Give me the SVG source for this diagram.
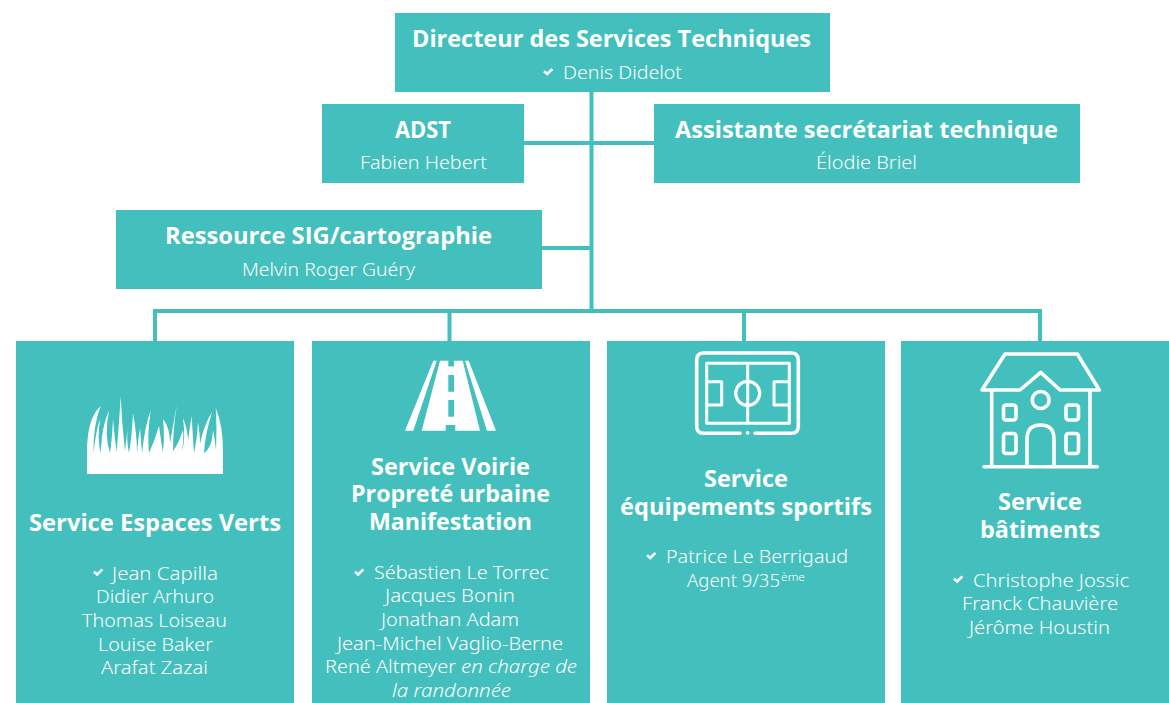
<svg xmlns="http://www.w3.org/2000/svg" width="1169" height="703" viewBox="0 0 1169 703">
<style>
.box{fill:#43c0bd}
.t{font-family:"Open Sans","Noto Sans",sans-serif;font-weight:700;font-size:23px;fill:#fff;text-anchor:start}
.b{font-family:"Noto Sans","Liberation Sans",sans-serif;font-weight:300;font-size:19px;fill:#fff;text-anchor:start}
.i{font-style:italic}
.s{font-size:11px}
.ck{fill:none;stroke:#fff;stroke-width:2.6}
.ln{fill:none;stroke:#43c0bd;stroke-width:4}
.ic{fill:none;stroke:#fff;stroke-linejoin:round;stroke-linecap:round}
</style>
<defs>
<path id="check" class="ck" d="M0 2.7L3.2 5.4L8.4 0.4"/>
</defs>
<g id="connectors">
<path class="ln" d="M591.5 92V311M524 143H654M542 248H591.5M155 341V311H1040V341M449.5 311V341M744 311V341"/>
</g>
<g id="directeur">
<rect class="box" x="395" y="13" width="435" height="79"/>
<text class="t" x="412" y="47" textLength="399" lengthAdjust="spacingAndGlyphs">Directeur des Services Techniques</text>
<use href="#check" x="544" y="68.6"/>
<text class="b" x="563" y="79" textLength="119" lengthAdjust="spacingAndGlyphs">Denis Didelot</text>
</g>
<g id="adst">
<rect class="box" x="322" y="104" width="202" height="79"/>
<text class="t" x="395" y="138" textLength="56" lengthAdjust="spacingAndGlyphs">ADST</text>
<text class="b" x="360" y="169" textLength="127" lengthAdjust="spacingAndGlyphs">Fabien Hebert</text>
</g>
<g id="assistante">
<rect class="box" x="654" y="104" width="426" height="79"/>
<text class="t" x="675" y="138" textLength="383" lengthAdjust="spacingAndGlyphs">Assistante secrétariat technique</text>
<text class="b" x="816" y="169" textLength="101" lengthAdjust="spacingAndGlyphs">Élodie Briel</text>
</g>
<g id="ressource">
<rect class="box" x="116" y="210" width="426" height="79"/>
<text class="t" x="165" y="244" textLength="327" lengthAdjust="spacingAndGlyphs">Ressource SIG/cartographie</text>
<text class="b" x="242" y="276" textLength="173" lengthAdjust="spacingAndGlyphs">Melvin Roger Guéry</text>
</g>
<g id="espaces-verts">
<rect class="box" x="16" y="341" width="278" height="362"/>
<path fill="#fff" d="M87 474V452Q87 418 100.7 406Q93 425 93.5 453Q96 430 100 419Q97 440 100.7 453Q102 425 109 411Q104 435 110 453Q112 440 113 419Q115 440 116.7 452Q119 425 120.7 396.7Q122 425 125 451Q127 435 128 423Q126 440 129 453Q132 435 133 413Q137 435 137 453Q138 440 140 428Q141 440 142 453Q145 425 150.7 410.7Q147 435 149 453Q155 440 159 426Q161 440 162.7 452Q165 440 163 419Q170 428 170 443Q174 420 176.7 405Q173 430 173 451Q178 445 183 430Q184 440 181.7 452Q186 440 183 418Q188 430 188 442Q189 430 191.7 416Q193 440 194 453Q197 440 198 422Q200 435 200 444Q204 425 212 412Q205 435 204 453Q212 448 213 430Q215 440 216 450Q217 425 215.7 408Q223 425 223 452V474Z"/>
<text class="t" x="29" y="531" textLength="252" lengthAdjust="spacingAndGlyphs">Service Espaces Verts</text>
<use href="#check" x="94" y="569"/>
<text class="b" x="112" y="580" textLength="106" lengthAdjust="spacingAndGlyphs">Jean Capilla</text>
<text class="b" x="96" y="603" textLength="118" lengthAdjust="spacingAndGlyphs">Didier Arhuro</text>
<text class="b" x="82" y="627" textLength="145" lengthAdjust="spacingAndGlyphs">Thomas Loiseau</text>
<text class="b" x="98" y="651" textLength="115" lengthAdjust="spacingAndGlyphs">Louise Baker</text>
<text class="b" x="101" y="674" textLength="107" lengthAdjust="spacingAndGlyphs">Arafat Zazai</text>
</g>
<g id="voirie">
<rect class="box" x="312" y="341" width="278" height="362"/>
<path fill="#fff" fill-rule="evenodd" d="M405 430.7H413.3L436.7 360.7H433.3ZM465 360.7H468.7L496 430.7H487ZM421.7 430.7H445.7V425H455.3V430.7H480L462.7 360.7H454V366.5H448.3V360.7H440ZM448.3 375H454V391.7H448.3ZM448.3 400H454V416.7H448.3Z"/>
<text class="t" x="371" y="475" textLength="159" lengthAdjust="spacingAndGlyphs">Service Voirie</text>
<text class="t" x="351" y="502" textLength="199" lengthAdjust="spacingAndGlyphs">Propreté urbaine</text>
<text class="t" x="369" y="530" textLength="163" lengthAdjust="spacingAndGlyphs">Manifestation</text>
<use href="#check" x="355" y="569"/>
<text class="b" x="374" y="579" textLength="175" lengthAdjust="spacingAndGlyphs">Sébastien Le Torrec</text>
<text class="b" x="385" y="602" textLength="130" lengthAdjust="spacingAndGlyphs">Jacques Bonin</text>
<text class="b" x="381" y="626" textLength="138" lengthAdjust="spacingAndGlyphs">Jonathan Adam</text>
<text class="b" x="337" y="650" textLength="226" lengthAdjust="spacingAndGlyphs">Jean-Michel Vaglio-Berne</text>
<text class="b" x="325" y="673" textLength="131" lengthAdjust="spacingAndGlyphs">René Altmeyer</text>
<text class="b i" x="461" y="673" textLength="116" lengthAdjust="spacingAndGlyphs">en charge de</text>
<text class="b i" x="392" y="697" textLength="119" lengthAdjust="spacingAndGlyphs">la randonnée</text>
</g>
<g id="equipements">
<rect class="box" x="607" y="341" width="278" height="362"/>
<g class="ic">
<path stroke-width="3.6" d="M740 433.3H703.7Q696.7 433.3 696.7 426.3V360Q696.7 353 703.7 353H791.3Q798.3 353 798.3 360V426.3Q798.3 433.3 791.3 433.3H755"/>
<path stroke-width="3" d="M706.7 363.3H789.3V423.3H706.7ZM747.7 363.3V423.3M706.7 381.7H721.7V405H706.7M789.3 381.7H774V405H789.3"/>
<circle stroke-width="3.2" cx="747.7" cy="393.3" r="12"/>
<path stroke-width="3.6" d="M747.7 432.7V433"/>
</g>
<text class="t" x="704" y="487" textLength="84" lengthAdjust="spacingAndGlyphs">Service</text>
<text class="t" x="620" y="515" textLength="252" lengthAdjust="spacingAndGlyphs">équipements sportifs</text>
<use href="#check" x="647" y="552.5"/>
<text class="b" x="666" y="563" textLength="182" lengthAdjust="spacingAndGlyphs">Patrice Le Berrigaud</text>
<text class="b" x="687" y="587" textLength="93" lengthAdjust="spacingAndGlyphs">Agent 9/35</text>
<text class="b s" x="781" y="581" textLength="24" lengthAdjust="spacingAndGlyphs">ème</text>
</g>
<g id="batiments">
<rect class="box" x="901" y="341" width="268" height="362"/>
<g class="ic" stroke-width="3.6">
<path d="M982 390L1005 354H1077.3L1099.3 390H1060L1040.7 372.3L1020 390ZM991.7 390V466.5M1090 390V466.5M984 466.7H1097.3"/>
<circle cx="1040.7" cy="400" r="8.5"/>
<rect x="1003.5" y="405" width="12.5" height="15" rx="2.5"/>
<rect x="1066" y="405" width="12.5" height="15" rx="2.5"/>
<rect x="1003.5" y="433.5" width="12.5" height="20" rx="2.5"/>
<rect x="1066" y="433.5" width="12.5" height="20" rx="2.5"/>
<path d="M1027 466V439Q1027 425 1040.5 425Q1054 425 1054 439V466"/>
</g>
<text class="t" x="998" y="510" textLength="84" lengthAdjust="spacingAndGlyphs">Service</text>
<text class="t" x="980" y="538" textLength="120" lengthAdjust="spacingAndGlyphs">bâtiments</text>
<use href="#check" x="954" y="576"/>
<text class="b" x="973" y="587" textLength="156" lengthAdjust="spacingAndGlyphs">Christophe Jossic</text>
<text class="b" x="962" y="610" textLength="156" lengthAdjust="spacingAndGlyphs">Franck Chauvière</text>
<text class="b" x="969" y="634" textLength="141" lengthAdjust="spacingAndGlyphs">Jérôme Houstin</text>
</g>
</svg>
